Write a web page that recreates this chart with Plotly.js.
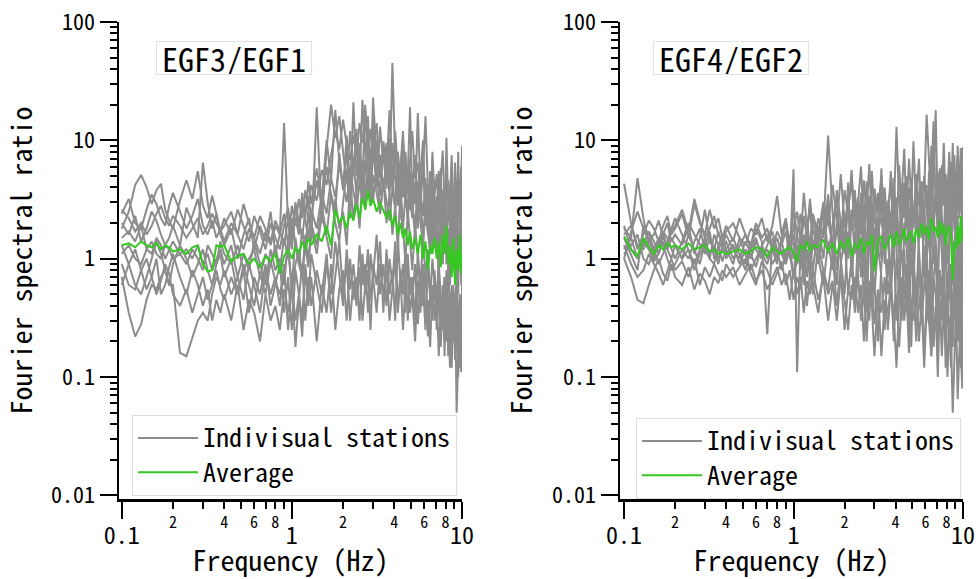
<!DOCTYPE html>
<html><head><meta charset="utf-8">
<script src="https://cdn.plot.ly/plotly-3.0.1.min.js"></script>
<style>body{margin:0;background:#fff}</style>
</head><body><div id="chart" style="width:980px;height:579px"></div>
<script>
// Frequency grid (Hz)
const freq = [
0.10,0.11,0.12,0.13,0.14,0.15,0.16,0.17,0.18,0.19,
0.20,0.22,0.24,0.26,0.28,0.30,0.32,0.34,0.36,0.38,
0.40,0.44,0.48,0.52,0.56,0.60,0.65,0.70,0.75,0.80,
0.85,0.90,0.95,1.00,1.05,1.10,1.15,1.20,1.25,1.30,
1.40,1.50,1.60,1.70,1.80,1.90,2.00,2.10,2.20,2.30,
2.40,2.50,2.60,2.70,2.80,2.90,3.00,3.15,3.30,3.45,
3.60,3.75,3.90,4.05,4.20,4.35,4.50,4.65,4.80,4.95,
5.10,5.30,5.50,5.70,5.90,6.10,6.30,6.50,6.70,6.90,
7.10,7.30,7.50,7.70,7.90,8.10,8.30,8.50,8.70,8.90,
9.10,9.30,9.50,9.70,9.90,10.0];

// ---- EGF3/EGF1 individual stations ----
const egf31_s1 = [
2.4,3.2,2.0,1.8,2.6,3.5,2.9,2.2,1.9,2.8,
3.6,2.5,1.8,2.3,3.2,1.9,1.6,2.1,1.5,1.8,
1.4,2.0,1.6,1.2,1.8,1.5,1.1,1.7,1.3,1.9,
1.6,2.4,1.3,2.8,1.9,3.2,2.2,3.8,2.6,4.2,
3.1,5.6,4.2,7.5,12.0,8.4,15.0,9.2,6.8,11.0,
7.2,14.0,9.5,18.0,8.8,12.5,6.4,10.0,5.8,8.2,
4.6,7.9,3.8,12.0,5.2,3.4,6.6,2.8,4.9,3.1,
2.2,4.4,1.8,3.6,1.4,2.9,1.6,3.8,1.2,2.5,
1.5,0.8,2.4,1.1,3.2,0.9,1.8,0.6,2.2,1.0,
0.7,1.6,0.5,2.8,0.9,1.4];
const egf31_s2 = [
0.7,0.35,0.22,0.28,0.45,0.6,0.55,0.7,0.8,0.6,
0.6,0.16,0.15,0.22,0.3,0.35,0.3,0.5,0.7,0.6,
0.8,0.5,0.7,0.45,0.9,0.6,0.35,0.8,0.5,0.7,
0.4,0.9,0.25,0.6,0.3,0.5,0.22,0.8,0.45,1.1,
0.6,0.35,0.9,0.5,1.4,0.7,0.4,1.2,0.55,0.9,
0.45,1.3,0.6,0.9,0.35,1.1,0.7,1.6,0.5,0.9,
0.4,1.0,0.6,1.4,0.35,0.8,0.5,1.2,0.3,0.7,
0.45,0.9,0.28,0.6,0.4,0.85,0.22,0.5,0.35,0.7,
0.25,0.6,0.18,0.45,0.3,0.55,0.15,0.4,0.2,0.5,
0.14,0.35,0.1,0.28,0.12,0.2];
const egf31_s3 = [
1.8,2.5,4.2,5.1,4.0,2.9,3.8,4.3,2.6,2.1,
1.8,3.1,4.6,3.2,5.5,2.8,2.2,3.4,2.4,1.7,
2.2,1.6,2.6,1.9,1.4,2.3,1.7,1.2,2.0,1.5,
1.2,1.9,2.7,1.4,2.2,1.6,3.0,2.1,1.5,2.6,
1.8,3.5,2.4,4.8,3.3,6.2,4.1,3.0,5.5,3.7,
2.6,4.4,3.1,6.8,4.0,2.8,5.1,3.6,2.4,4.6,
3.2,2.1,3.9,2.7,6.1,2.4,1.8,3.5,2.2,4.4,
2.8,1.6,3.2,2.0,1.3,2.7,1.8,1.1,2.3,1.5,
2.9,1.2,1.8,0.9,2.6,1.4,0.8,1.9,1.1,2.4,
1.3,0.7,1.8,1.0,2.1,1.2];
const egf31_s4 = [
1.1,1.3,1.0,0.9,1.2,1.4,1.1,1.0,1.3,1.2,
1.0,1.1,0.9,1.2,1.0,0.8,1.3,1.1,0.9,1.4,
1.1,0.9,1.3,0.8,1.0,1.2,0.7,1.1,0.9,1.3,
0.8,1.5,1.0,2.2,1.3,0.9,1.8,1.1,2.6,1.4,
19.0,2.0,8.5,20.0,10.5,16.0,8.0,4.5,12.0,6.0,
9.0,4.8,22.0,7.5,11.0,5.2,8.6,4.0,13.0,6.3,
9.5,4.2,45.0,6.8,8.0,4.6,10.0,5.4,3.6,7.2,
12.0,4.8,6.5,3.2,5.6,16.0,4.1,2.7,6.0,3.5,
5.2,2.4,4.4,8.2,3.0,5.0,2.1,3.9,6.5,2.6,
4.0,1.8,5.5,2.3,6.0,2.8];
const egf31_s5 = [
0.9,0.6,0.55,0.8,1.0,0.7,0.5,0.65,0.9,0.75,
0.5,0.4,0.55,0.35,0.5,0.7,0.45,0.6,0.8,0.55,
0.45,0.7,0.5,0.9,0.6,0.4,0.75,0.5,0.95,0.65,
0.5,0.8,1.2,0.6,1.5,0.9,0.7,1.3,0.85,1.8,
1.1,2.4,1.5,1.0,3.2,1.8,2.5,1.3,4.5,2.2,
3.6,1.8,5.2,2.6,4.0,8.5,3.1,6.0,2.4,4.8,
2.0,3.5,1.6,2.8,1.2,4.2,1.9,0.9,2.6,1.4,
0.8,1.9,1.1,0.6,1.5,0.7,1.2,0.45,1.0,0.6,
0.35,0.9,0.5,0.25,0.7,0.4,0.95,0.3,0.6,0.2,
0.45,0.05,0.15,0.3,0.5,0.25];
const egf31_s6 = [
1.5,1.7,1.4,1.9,1.2,1.1,1.5,1.3,1.0,1.2,
1.4,1.1,1.2,1.0,1.3,0.9,1.1,0.8,1.0,1.2,
0.9,1.3,0.7,1.1,0.8,1.4,0.9,0.6,1.2,0.8,
1.0,0.6,1.4,0.5,0.9,1.2,0.7,1.6,0.9,2.0,
1.3,2.8,1.6,3.5,2.0,1.4,3.0,5.5,2.2,7.0,
3.4,9.5,4.5,20.0,6.0,3.2,8.4,14.0,4.8,7.6,
3.9,10.5,5.0,2.6,7.0,3.1,9.0,4.2,2.2,5.5,
3.0,1.8,4.5,2.4,7.8,1.9,3.3,1.4,4.2,2.1,
1.3,3.0,1.7,0.9,2.5,1.2,4.5,1.5,0.8,2.0,
1.1,3.2,0.8,1.6,0.6,1.9];
const egf31_s7 = [
0.6,0.9,1.2,0.8,0.55,0.7,1.0,0.5,0.6,0.85,
1.1,0.7,0.5,0.8,0.6,0.4,0.55,0.3,0.45,0.35,
0.5,0.3,0.6,0.25,0.45,0.35,0.2,0.5,0.3,0.4,
0.25,0.55,0.35,0.6,0.18,0.45,0.9,0.3,0.7,0.4,
0.8,0.5,1.1,0.35,0.7,1.4,0.5,0.9,0.3,0.65,
0.4,0.85,0.3,0.6,1.2,0.45,0.7,0.35,0.9,0.5,
0.8,0.3,0.55,1.0,0.4,0.7,0.25,0.6,0.9,0.35,
0.5,0.2,0.65,0.35,0.9,0.3,0.45,0.18,0.6,0.3,
0.5,0.15,0.4,0.28,0.7,0.2,0.35,0.12,0.45,0.3,
0.18,0.55,0.22,0.12,0.4,0.3];
const egf31_s8 = [
2.0,1.6,2.3,1.4,1.8,2.5,2.1,1.6,1.3,1.5,
1.9,1.3,2.7,2.0,1.5,6.5,3.0,1.8,2.4,1.6,
1.3,1.8,1.0,1.6,2.2,1.2,1.9,1.4,2.5,1.1,
1.6,14.0,2.0,1.2,2.8,1.8,3.6,2.2,4.5,2.9,
5.8,3.2,10.0,4.6,18.0,6.5,4.0,8.0,3.5,21.0,
5.0,9.0,3.8,6.6,16.0,4.2,23.0,7.0,3.4,9.8,
5.6,18.0,4.4,8.5,3.0,6.0,12.0,3.6,5.0,19.0,
3.4,7.5,2.8,5.0,10.0,2.5,4.3,1.9,8.0,3.2,
2.0,5.5,1.6,3.8,1.2,10.5,2.6,1.7,4.0,1.3,
6.5,2.0,8.0,1.5,3.0,0.9];
const egf31_s9 = [
1.3,0.9,0.6,0.5,0.7,1.0,1.4,1.1,0.8,0.6,
0.9,1.3,1.0,0.7,0.9,1.2,0.8,0.6,0.9,1.1,
0.7,1.0,0.5,0.8,0.35,0.7,0.5,0.9,0.4,0.6,
0.9,0.35,0.7,0.25,0.8,0.5,0.3,0.9,0.4,0.7,
0.2,0.6,0.35,0.9,0.25,0.55,0.8,0.3,1.0,0.45,
0.7,0.3,1.1,0.5,0.8,0.25,0.9,0.6,1.4,0.35,
1.2,0.5,0.8,0.3,1.5,0.6,0.9,0.35,1.1,0.5,
0.7,0.3,1.2,0.4,0.6,0.25,0.9,0.5,0.3,0.8,
0.4,1.0,0.25,0.6,0.15,0.8,0.35,0.5,0.12,0.6,
0.3,0.8,0.2,0.5,0.11,0.6];
const egf31_s10 = [
2.6,2.2,1.7,2.0,1.6,1.9,2.4,2.8,2.2,1.9,
2.3,1.9,1.5,1.8,2.2,1.6,1.9,2.4,2.0,1.7,
1.9,2.5,1.6,2.9,2.0,1.5,2.3,1.8,1.4,2.1,
1.7,1.3,2.2,1.6,3.0,2.0,1.5,2.6,3.4,2.2,
4.6,2.8,6.0,3.5,2.5,7.8,3.8,11.0,4.2,5.5,
12.5,4.0,6.5,3.0,9.0,5.0,14.5,4.5,7.5,3.8,
6.8,3.4,9.5,4.6,2.8,5.8,3.3,8.0,4.0,2.6,
5.0,2.9,17.0,3.6,2.3,4.8,2.0,5.5,2.6,1.8,
3.4,2.1,5.8,1.6,2.9,1.3,4.6,2.2,7.5,1.9,
2.7,1.4,4.8,2.0,3.6,9.0];
const egf31_avg = [
1.3,1.35,1.25,1.4,1.3,1.25,1.35,1.2,1.3,1.25,
1.15,1.2,1.1,1.25,1.3,0.9,0.78,0.8,1.3,1.25,
1.3,0.95,1.05,1.1,0.9,1.0,0.85,1.05,0.95,1.1,
0.75,1.05,1.2,1.0,1.25,1.1,1.4,1.2,1.5,1.3,
1.6,1.4,1.9,1.3,2.6,2.0,2.3,1.8,2.5,2.1,
2.9,2.2,3.3,2.6,3.8,2.8,3.2,2.5,3.0,2.6,
2.2,2.6,1.9,2.3,1.6,2.0,1.5,1.8,1.3,1.7,
1.2,1.5,1.1,1.6,1.0,1.4,0.8,1.3,1.1,1.5,
1.0,1.4,0.85,1.6,1.1,1.9,0.9,1.3,0.7,1.5,
0.6,1.2,0.8,1.6,0.75,1.1];

// ---- EGF4/EGF2 individual stations ----
const egf42_s1 = [
4.3,2.0,1.2,1.6,2.1,1.8,1.4,1.9,2.3,1.6,
1.8,2.4,1.5,2.9,2.0,1.6,2.6,1.8,2.2,1.5,
1.9,1.4,2.2,1.6,1.3,2.0,1.5,1.8,1.2,1.7,
1.4,2.1,1.2,2.7,1.6,1.1,2.3,1.5,3.2,1.8,
1.3,2.6,1.9,4.2,2.2,1.5,3.8,2.4,5.6,2.1,
3.3,1.7,4.6,2.5,6.3,2.0,3.9,1.6,4.8,2.7,
1.9,5.5,2.3,13.0,3.0,1.8,4.4,2.5,7.0,3.2,
2.0,5.2,2.8,4.5,3.6,16.5,6.4,2.9,4.5,18.0,
2.4,5.8,3.0,9.5,2.6,4.2,1.8,6.6,3.1,7.5,
2.5,9.0,3.4,8.6,2.8,6.0];
const egf42_s2 = [
1.0,0.7,0.45,0.42,0.6,0.8,1.0,0.75,0.65,0.9,
0.7,0.6,0.85,0.55,0.75,0.65,0.5,0.7,0.62,0.8,
0.7,0.85,0.6,0.75,0.9,0.65,0.8,0.55,0.7,0.85,
0.6,0.75,0.45,0.8,0.5,0.7,0.35,0.65,0.5,0.8,
0.45,0.7,0.3,0.6,0.4,0.75,0.25,0.55,0.45,0.7,
0.35,0.6,0.2,0.5,0.4,0.65,0.28,0.55,0.15,0.45,
0.35,0.6,0.25,0.5,0.18,0.45,0.35,0.6,0.22,0.4,
0.3,0.55,0.2,0.45,0.12,0.38,0.28,0.5,0.18,0.35,
0.25,0.45,0.15,0.38,0.28,0.1,0.32,0.2,0.05,0.15,
0.4,0.065,0.18,0.35,0.2,0.25];
const egf42_s3 = [
1.8,1.5,4.8,2.2,1.3,1.0,1.4,1.7,1.2,1.5,
1.3,1.0,1.6,1.2,0.9,1.4,1.1,1.3,1.0,1.2,
1.1,1.3,0.9,1.2,1.0,1.4,1.1,0.9,1.3,1.0,
1.2,0.9,1.5,1.0,1.3,0.8,1.6,1.1,0.7,1.4,
0.9,1.8,11.0,2.4,0.8,1.8,1.1,3.0,0.7,1.6,
2.5,1.0,1.9,0.6,3.4,1.3,0.8,2.2,1.0,4.0,
1.4,0.7,2.8,1.1,0.5,2.0,1.3,3.6,0.8,1.7,
0.6,2.5,1.2,0.4,3.0,1.0,1.8,0.5,2.6,1.1,
0.7,3.4,1.3,0.45,2.2,0.9,1.6,4.5,0.6,1.4,
2.8,0.5,1.1,0.35,2.0,0.9];
const egf42_s4 = [
1.2,1.5,1.0,1.3,1.7,1.4,1.1,1.6,2.0,1.4,
1.6,1.3,1.9,1.1,1.5,2.6,1.4,1.2,1.7,1.3,
1.4,1.0,1.3,1.6,1.2,1.8,1.4,0.23,1.5,1.1,
1.3,1.7,1.0,5.7,0.11,1.4,0.9,2.2,1.2,0.8,
1.9,1.0,2.8,1.3,0.6,2.0,1.2,4.4,0.8,1.6,
1.0,3.6,0.7,1.5,2.6,0.5,1.8,1.1,5.8,0.9,
2.2,0.6,1.4,3.3,0.9,0.3,2.0,1.2,0.5,2.8,
1.0,0.4,1.7,3.9,0.7,1.3,0.35,2.4,0.9,1.5,
0.45,2.9,1.1,0.6,1.9,0.3,1.2,3.5,0.8,1.4,
0.5,2.3,0.7,1.6,0.4,1.2];
const egf42_s5 = [
1.1,1.3,1.6,1.0,0.9,1.2,1.5,1.3,1.0,0.8,
0.9,1.2,1.0,1.4,1.8,1.2,1.0,0.9,1.3,1.6,
1.2,0.9,1.5,1.1,0.8,1.0,1.3,1.6,1.2,0.9,
1.5,2.0,1.1,0.7,1.6,2.4,1.0,1.8,2.8,1.2,
2.2,1.5,3.5,1.0,1.8,5.2,2.0,1.3,2.6,1.1,
3.2,1.6,2.1,4.5,1.4,2.8,1.2,3.6,2.0,1.5,
2.6,4.2,1.8,2.9,1.3,3.8,2.2,5.0,1.6,3.0,
2.0,4.6,1.4,3.2,2.4,1.1,5.5,2.7,1.8,3.6,
1.5,4.0,2.3,1.2,5.2,2.6,1.7,3.3,2.1,5.6,
1.6,3.9,2.4,4.8,1.9,3.3];
const egf42_s6 = [
1.5,1.1,0.8,1.9,1.6,1.2,0.9,1.1,1.4,1.8,
2.2,1.6,1.2,0.9,1.2,1.5,1.0,1.6,1.3,0.95,
1.2,1.5,1.1,0.9,1.4,1.2,1.0,1.3,1.7,1.2,
0.8,1.1,1.6,1.3,0.9,1.5,1.2,0.7,1.3,1.9,
1.0,0.6,1.4,0.8,2.0,1.0,0.5,1.7,1.2,0.4,
1.5,0.7,1.1,0.35,1.6,0.9,0.5,1.3,0.7,0.25,
1.0,0.5,1.4,0.3,0.8,1.2,0.45,0.9,0.28,1.1,
0.6,0.2,0.9,0.5,1.3,0.4,0.8,0.15,0.7,1.0,
0.35,0.8,0.5,1.2,0.25,0.7,0.45,0.9,0.18,0.6,
1.0,0.3,0.7,0.12,0.5,0.8];
const egf42_s7 = [
1.6,1.9,1.3,1.2,1.5,1.1,1.3,1.7,1.5,1.2,
1.0,1.4,2.0,1.6,1.3,1.1,1.5,1.2,0.9,1.3,
1.6,1.2,1.0,1.4,1.1,0.85,1.3,1.0,1.2,1.5,
1.1,0.9,1.3,0.7,1.0,1.4,0.6,1.2,0.9,0.5,
1.3,0.8,0.55,1.1,0.4,0.9,1.5,0.5,1.0,0.35,
0.8,1.3,0.45,0.9,0.3,1.1,0.6,0.2,0.9,1.4,
0.5,0.8,0.2,1.0,0.6,0.35,1.2,0.4,0.7,0.18,
0.9,0.45,1.1,0.28,0.6,0.9,0.3,0.15,0.7,0.5,
0.2,0.8,0.4,0.6,0.12,0.55,0.9,0.25,0.45,0.7,
0.3,0.6,0.2,0.9,0.4,0.55];
const egf42_s8 = [
1.9,1.2,1.0,1.4,1.2,0.95,1.1,1.4,1.2,1.0,
1.3,1.0,1.2,0.8,1.1,1.3,1.7,1.0,1.2,1.4,
1.0,1.3,1.1,0.8,1.2,1.5,1.0,1.2,0.9,1.1,
1.4,1.0,1.2,1.6,0.9,1.3,0.8,1.5,1.1,2.3,
1.4,2.8,1.1,1.9,3.3,1.2,2.5,1.0,2.0,3.8,
1.3,2.4,1.0,3.0,1.7,5.5,2.2,1.4,3.2,1.2,
2.9,1.5,4.4,2.0,1.1,3.6,8.5,2.1,1.3,4.8,
1.8,3.1,7.0,1.5,2.6,4.2,1.3,9.0,2.2,3.4,
5.4,1.6,2.9,6.5,1.9,3.7,8.0,2.4,4.6,1.7,
3.5,7.2,2.2,5.0,8.5,4.0];
const egf42_s9 = [
1.0,1.7,2.5,1.8,1.4,1.6,2.1,1.5,1.3,1.7,
1.9,2.6,1.7,3.2,2.1,1.5,1.8,2.3,1.6,1.4,
1.7,2.0,1.5,1.3,1.8,1.6,2.2,1.4,1.9,3.4,
1.6,2.2,1.3,1.8,2.5,1.4,3.6,1.9,1.2,2.4,
1.6,3.0,2.1,1.3,3.8,2.0,1.5,2.7,4.5,1.8,
2.9,6.0,1.9,3.3,2.2,1.4,3.9,2.5,5.0,1.8,
3.1,2.0,4.8,1.6,6.2,2.4,3.5,1.8,4.0,2.7,
9.8,2.5,3.6,1.7,5.0,2.9,1.5,4.1,14.5,2.6,
3.8,1.8,6.2,2.8,4.5,1.6,5.1,2.3,9.5,2.0,
3.6,6.5,2.4,5.2,3.0,8.8];
const egf42_s10 = [
1.3,0.9,0.7,0.8,1.1,0.9,0.75,0.6,0.8,1.0,
0.8,0.95,0.7,1.0,0.6,0.85,0.7,0.9,0.75,0.65,
0.9,0.7,0.85,1.0,0.75,0.6,0.95,0.8,0.6,0.75,
0.95,0.6,0.8,0.45,0.7,0.55,0.9,0.4,0.75,0.6,
0.35,0.8,0.5,0.65,0.3,0.7,0.45,0.25,0.6,0.4,
0.75,0.3,0.55,0.2,0.65,0.4,0.15,0.5,0.35,0.7,
0.25,0.55,0.35,0.12,0.45,0.7,0.3,0.5,0.16,0.4,
0.55,0.25,0.4,0.6,0.15,0.45,0.3,0.65,0.2,0.4,
0.1,0.45,0.3,0.55,0.18,0.4,0.25,0.12,0.5,0.3,
0.45,0.2,0.35,0.15,0.08,0.4];
const egf42_avg = [
1.55,1.2,1.05,1.5,1.25,1.1,1.3,1.2,1.35,1.25,
1.3,1.2,1.35,1.2,1.25,1.3,1.15,1.2,1.1,1.15,
1.1,1.15,1.2,1.1,1.15,1.25,1.2,1.05,1.25,1.15,
1.1,1.2,1.25,1.15,0.95,1.3,1.2,1.4,1.15,1.3,
1.25,1.45,1.15,1.35,1.1,1.4,1.2,1.5,1.05,1.35,
1.2,1.5,1.1,1.4,1.3,1.6,0.78,1.45,1.55,1.2,
1.4,1.6,1.25,1.7,1.3,1.5,1.8,1.4,1.55,1.7,
1.35,1.8,1.5,2.0,1.6,1.9,1.45,2.2,1.7,1.85,
1.5,2.1,1.6,1.95,1.3,1.75,1.9,1.5,0.66,1.4,
1.2,1.9,1.3,2.3,1.4,1.7];

// Tick labels
const yTickVals = [0.01, 0.1, 1, 10, 100];
const yTickText = ['0.01', '0.1', '1', '10', '100'];
const yMinorVals = [0.02,0.03,0.04,0.05,0.06,0.07,0.08,0.09,0.2,0.3,0.4,0.5,0.6,0.7,0.8,0.9,2,3,4,5,6,7,8,9,20,30,40,50,60,70,80,90];
const xTickVals = [0.1, 1, 10];
const xTickText = ['0.1', '1', '10'];
const xMinorVals = [0.2,0.3,0.4,0.5,0.6,0.7,0.8,0.9,2,3,4,5,6,7,8,9];
const xMinorText = ['2','','4','','6','','8','','2','','4','','6','','8',''];

const panels = [
  {title: 'EGF3/EGF1', stations: [egf31_s1,egf31_s2,egf31_s3,egf31_s4,egf31_s5,egf31_s6,egf31_s7,egf31_s8,egf31_s9,egf31_s10], avg: egf31_avg},
  {title: 'EGF4/EGF2', stations: [egf42_s1,egf42_s2,egf42_s3,egf42_s4,egf42_s5,egf42_s6,egf42_s7,egf42_s8,egf42_s9,egf42_s10], avg: egf42_avg}
];

const FONT = "'Noto Sans Mono CJK JP', 'DejaVu Sans Mono', monospace";
const GRAY = 'rgb(140,140,140)';
const GREEN = 'rgb(52,200,32)';
const LEGEND_TEXT = s => '<span style="font-size:26px">' + s + '</span>';

const traces = [];
panels.forEach((p, k) => {
  const xa = k === 0 ? 'x' : 'x2';
  const ya = k === 0 ? 'y' : 'y2';
  const xm = k === 0 ? 'x3' : 'x4';
  const ym = k === 0 ? 'y3' : 'y4';
  const lg = k === 0 ? 'legend' : 'legend2';
  p.stations.forEach((s, i) => {
    traces.push({x: freq, y: s, type: 'scatter', mode: 'lines', xaxis: xa, yaxis: ya,
      name: LEGEND_TEXT('Indivisual stations'), legendgroup: 'st' + k, showlegend: i === 0, legend: lg,
      line: {color: GRAY, width: 2}, hoverinfo: 'skip'});
  });
  traces.push({x: freq, y: p.avg, type: 'scatter', mode: 'lines', xaxis: xa, yaxis: ya,
    name: LEGEND_TEXT('Average'), legendgroup: 'avg' + k, showlegend: true, legend: lg,
    line: {color: GREEN, width: 2}, hoverinfo: 'skip'});
  // empty carriers so the minor-tick overlay axes are drawn
  traces.push({x: [], y: [], type: 'scatter', mode: 'lines', xaxis: xm, yaxis: ya, showlegend: false, hoverinfo: 'skip'});
  traces.push({x: [], y: [], type: 'scatter', mode: 'lines', xaxis: xa, yaxis: ym, showlegend: false, hoverinfo: 'skip'});
});

const W = 980, H = 579;
const MT = 22, MB = 80;           // plot area spans y = 22 .. 499 px
const YR = [-2.03, 2];

function xMain(dom, rng, anchor) {
  return {type: 'log', range: rng, domain: dom, anchor: anchor, automargin: true,
    showline: true, linecolor: 'black', linewidth: 2.5,
    ticks: 'outside', ticklen: 17, tickwidth: 2, tickcolor: 'black',
    tickmode: 'array', tickvals: xTickVals, ticktext: xTickText,
    tickfont: {family: FONT, size: 24, color: 'black'}, ticklabelstandoff: -3,
    showgrid: false, zeroline: false,
    title: {text: 'Frequency (Hz)', font: {family: FONT, size: 28, color: 'black'}, standoff: 14}};
}
function xMinor(over, rng, anchor) {
  return {type: 'log', range: rng, overlaying: over, anchor: anchor, side: 'bottom', visible: true,
    showline: false, ticks: 'outside', ticklen: 9, tickwidth: 2, tickcolor: 'black',
    tickmode: 'array', tickvals: xMinorVals, ticktext: xMinorText,
    tickfont: {family: FONT, size: 16, color: 'black'}, ticklabelstandoff: 0,
    showgrid: false, zeroline: false};
}
function yMain(anchor) {
  return {type: 'log', range: YR, domain: [0, 1], anchor: anchor,
    showline: true, linecolor: 'black', linewidth: 2.5,
    ticks: 'outside', ticklen: 17, tickwidth: 2, tickcolor: 'black',
    tickmode: 'array', tickvals: yTickVals, ticktext: yTickText,
    tickfont: {family: FONT, size: 22, color: 'black'}, ticklabelstandoff: 0,
    showgrid: false, zeroline: false,
    title: {text: 'Fourier spectral ratio', font: {family: FONT, size: 28, color: 'black'}, standoff: 12}};
}
function yMinor(over, anchor) {
  return {type: 'log', range: YR, overlaying: over, anchor: anchor, side: 'left', visible: true,
    showline: false, ticks: 'outside', ticklen: 8, tickwidth: 2, tickcolor: 'black',
    tickmode: 'array', tickvals: yMinorVals, showticklabels: false,
    showgrid: false, zeroline: false};
}

const legendBase = {xanchor: 'left', yanchor: 'top', bgcolor: 'white', bordercolor: '#dddddd', borderwidth: 1,
  font: {family: FONT, size: 24, color: 'black'}, tracegroupgap: 0, itemwidth: 60};

// paper y (plot-area fraction) from a pixel row of the figure
const py = pix => (H - MB - pix) / (H - MT - MB);

const layout = {
  width: W, height: H, paper_bgcolor: 'white', plot_bgcolor: 'rgba(0,0,0,0)',
  margin: {l: 0, r: 0, t: MT, b: MB, autoexpand: false},
  showlegend: true,
  xaxis: xMain([119 / W, 462 / W], [-1.016, 1], 'y'),
  yaxis: yMain('x'),
  xaxis2: xMain([620 / W, 963 / W], [-1.024, 1], 'y2'),
  yaxis2: yMain('x2'),
  xaxis3: xMinor('x', [-1.016, 1], 'y'),
  xaxis4: xMinor('x2', [-1.024, 1], 'y2'),
  yaxis3: yMinor('y', 'x'),
  yaxis4: yMinor('y2', 'x2'),
  legend: Object.assign({}, legendBase, {x: 132 / W, y: py(415)}),
  legend2: Object.assign({}, legendBase, {x: 636 / W, y: py(418)}),
  annotations: panels.map((p, k) => ({
    xref: 'paper', yref: 'paper', x: (k === 0 ? 234 : 731) / W, y: py(58),
    xanchor: 'center', yanchor: 'middle', showarrow: false, text: p.title,
    width: 154, height: 32, align: 'center', valign: 'middle',
    font: {family: FONT, size: 32, color: 'black'},
    bgcolor: 'white', bordercolor: '#e2e2e2', borderwidth: 1, borderpad: 0
  }))
};

Plotly.newPlot('chart', traces, layout, {displayModeBar: false, staticPlot: true});
</script>
</body></html>
